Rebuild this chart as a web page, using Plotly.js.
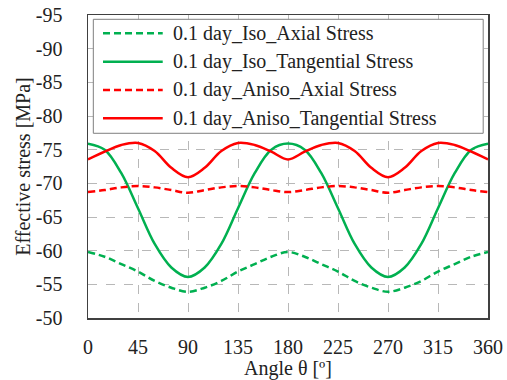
<!DOCTYPE html>
<html>
<head>
<meta charset="utf-8">
<script src="https://cdn.plot.ly/plotly-3.0.1.min.js"></script>
<style>html,body{margin:0;padding:0;background:#fff;overflow:hidden;}
#warm{position:absolute;left:-2000px;top:0;font-family:'Liberation Serif';font-size:20px;}</style>
</head>
<body>
<div id="warm">0.1 day_Iso_Axial Stress Angle θ [º] Effective stress [MPa] -95 360</div>
<div id="chart" style="width:507px;height:380px"></div>
<script>
// Angle (degrees)
const angles = [0,15,30,45,60,75,90,105,120,135,150,165,180,195,210,225,240,255,270,285,300,315,330,345,360];
// Effective stress [MPa]
const isoAxial = [-59.8,-59.1,-58.0,-56.9,-55.5,-54.5,-53.9,-54.5,-55.5,-56.9,-58.0,-59.1,-59.8,-59.1,-58.0,-56.9,-55.5,-54.5,-53.9,-54.5,-55.5,-56.9,-58.0,-59.1,-59.8];
const isoTangential = [-75.9,-75.0,-71.5,-66.3,-61.0,-57.5,-56.1,-57.5,-61.0,-66.3,-71.5,-75.0,-75.9,-75.0,-71.5,-66.3,-61.0,-57.5,-56.1,-57.5,-61.0,-66.3,-71.5,-75.0,-75.9];
const anisoAxial = [-68.7,-69.0,-69.4,-69.6,-69.4,-69.0,-68.6,-69.0,-69.4,-69.6,-69.4,-69.0,-68.7,-69.0,-69.4,-69.6,-69.4,-69.0,-68.6,-69.0,-69.4,-69.6,-69.4,-69.0,-68.7];
const anisoTangential = [-73.55,-74.7,-75.7,-76.0,-74.8,-72.3,-70.9,-72.3,-74.8,-76.0,-75.7,-74.7,-73.55,-74.7,-75.7,-76.0,-74.8,-72.3,-70.9,-72.3,-74.8,-76.0,-75.7,-74.7,-73.55];
const seriesNames = ["0.1 day_Iso_Axial Stress","0.1 day_Iso_Tangential Stress","0.1 day_Aniso_Axial Stress","0.1 day_Aniso_Tangential Stress"];
const xTicks = [0,45,90,135,180,225,270,315,360];
const yTicks = [-95,-90,-85,-80,-75,-70,-65,-60,-55,-50];

const GREEN = '#00B050', RED = '#FF0000';
const DASH = '7px,4px';
const styles = [
  {color: GREEN, dash: DASH},
  {color: GREEN, dash: 'solid'},
  {color: RED, dash: DASH},
  {color: RED, dash: 'solid'}
];
const ys = [isoAxial, isoTangential, anisoAxial, anisoTangential];

const traces = ys.map((y, i) => ({
  x: angles, y: y, name: seriesNames[i], type: 'scatter', mode: 'lines',
  line: {color: styles[i].color, dash: styles[i].dash, width: 2.5, shape: 'spline', smoothing: 1},
  showlegend: false
}));

const SERIF = 'Liberation Serif';
const TXT = '#222222';
const shapes = [{
  type: 'rect', xref: 'paper', yref: 'paper', x0: 0.0133, x1: 0.988, y0: 0.6096, y1: 0.9858,
  fillcolor: '#ffffff', line: {color: '#7f7f7f', width: 1}, layer: 'above'
}];
const annotations = [];
const rowY = [0.9396, 0.8459, 0.7525, 0.6590];
seriesNames.forEach((n, i) => {
  shapes.push({type: 'line', xref: 'paper', yref: 'paper', x0: 0.0375, x1: 0.1868, y0: rowY[i], y1: rowY[i],
    line: {color: styles[i].color, dash: styles[i].dash, width: 2.5}, layer: 'above'});
  annotations.push({xref: 'paper', yref: 'paper', x: 0.2068, y: rowY[i], xanchor: 'left', yanchor: 'middle',
    text: n, showarrow: false, font: {family: SERIF, size: 20, color: TXT}});
});

const layout = {
  width: 507, height: 380,
  margin: {l: 88, r: 19, t: 15, b: 62},
  paper_bgcolor: '#ffffff', plot_bgcolor: '#ffffff',
  font: {family: SERIF, size: 20, color: TXT},
  xaxis: {
    range: [0, 360], tickmode: 'array', tickvals: xTicks, ticktext: xTicks.map(String),
    showgrid: true, gridcolor: '#b8b8b8', griddash: 'dash', gridwidth: 1,
    showline: true, mirror: true, linecolor: '#404040', linewidth: 1.5,
    ticks: 'outside', ticklen: 10, tickcolor: 'rgba(0,0,0,0)', zeroline: false,
    title: {text: 'Angle θ [º]', font: {family: SERIF, size: 20, color: TXT}},
    tickfont: {family: SERIF, size: 20, color: TXT}
  },
  yaxis: {
    range: [-50, -95], tickmode: 'array', tickvals: yTicks, ticktext: yTicks.map(String),
    showgrid: true, gridcolor: '#b8b8b8', griddash: 'dash', gridwidth: 1,
    showline: true, mirror: true, linecolor: '#404040', linewidth: 1.5,
    ticks: 'outside', ticklen: 20, tickcolor: 'rgba(0,0,0,0)', zeroline: false,
    title: {text: 'Effective stress [MPa]', font: {family: SERIF, size: 20, color: TXT}},
    tickfont: {family: SERIF, size: 20, color: TXT}
  },
  shapes: shapes,
  annotations: annotations,
  showlegend: false
};
Plotly.newPlot('chart', traces, layout, {displayModeBar: false, staticPlot: true});
</script>
</body>
</html>
